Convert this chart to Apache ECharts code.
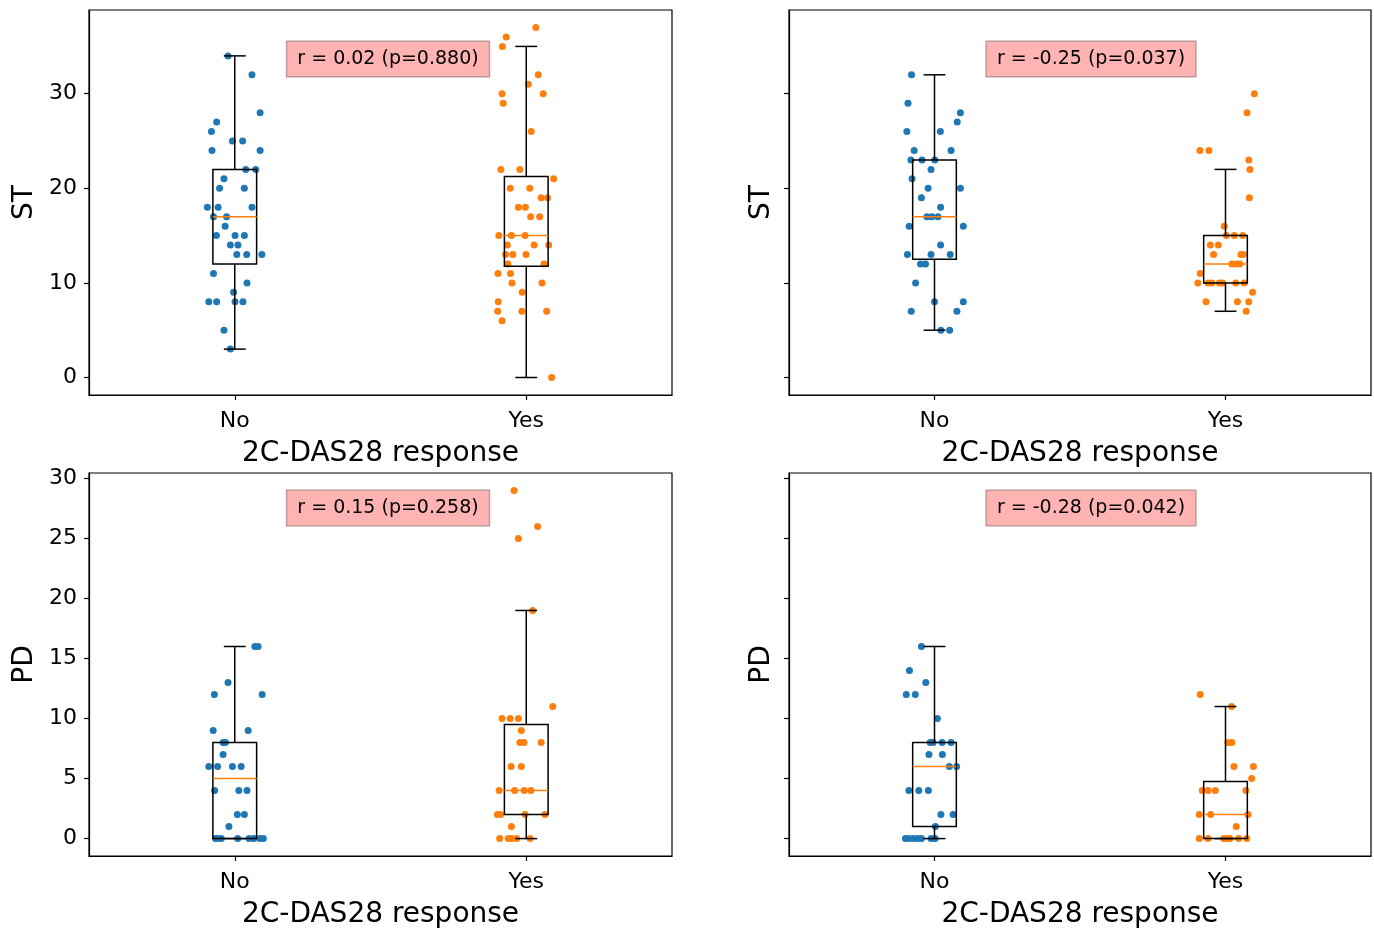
<!DOCTYPE html>
<html>
<head>
<meta charset="utf-8">
<script src="https://cdn.jsdelivr.net/npm/echarts@6/dist/echarts.min.js"></script>
<style>
  html, body { margin: 0; background: #fff; }
  #chart { width: 1374px; height: 930px; }
</style>
</head>
<body>
<div id="chart"></div>
<script>
// 分组 / 刻度
var groups = ['No', 'Yes'];
var stTicks = [0, 10, 20, 30];
var pdTicks = [0, 5, 10, 15, 20, 25, 30];

// 左上: ST
var stANo = [34,32,28,27,26,25,25,24,24,22,22,21,20,20,18,18,18,17,17,16,15,15,15,14,14,13,13,13,11,10,9,8,8,8,8,5,3];
var stANoJit = [-0.023,0.059,0.087,-0.062,-0.080,-0.008,0.027,-0.078,0.087,0.038,0.072,-0.037,-0.052,0.033,-0.094,-0.057,0.059,-0.073,-0.028,-0.033,-0.063,0.001,0.033,-0.015,0.011,0.007,0.041,0.093,-0.073,0.042,-0.004,-0.089,-0.062,0.001,0.028,-0.037,-0.015];
var stAYes = [37,36,35,32,31,30,30,29,26,22,22,21,20,20,19,19,18,18,17,17,15,15,15,14,14,14,13,13,13,12,12,11,11,10,10,9,8,7,7,7,6,0];
var stAYesJit = [0.033,-0.069,-0.082,0.041,0.007,-0.083,0.058,-0.079,0.017,-0.087,-0.022,0.094,-0.055,0.012,0.051,0.073,-0.027,-0.003,0.015,0.046,-0.094,-0.051,-0.004,-0.065,0.027,0.077,-0.071,-0.046,-0.001,-0.063,0.061,-0.097,-0.054,-0.049,0.054,-0.014,-0.096,-0.098,-0.015,0.070,-0.083,0.087];
// 箱线: [min, q1, median, q3, max]
var stABoxNo = [3, 12, 17, 22, 34];
var stABoxYes = [0, 11.75, 15, 21.25, 35];

// 右上: ST
var stBNo = [32,29,28,27,26,26,24,24,23,23,23,22,21,20,20,19,18,17,17,17,16,16,14,13,13,13,12,12,10,8,8,7,7,5,5];
var stBNoJit = [-0.079,-0.091,0.089,0.078,-0.095,0.020,-0.070,0.057,-0.081,-0.043,0.001,-0.012,-0.077,-0.022,0.089,-0.045,0.021,-0.026,-0.009,0.012,-0.087,0.099,0.021,-0.093,-0.012,0.054,-0.048,-0.031,-0.065,0.000,0.099,-0.080,0.077,0.022,0.052];
var stBYes = [30,28,24,24,23,22,19,16,15,15,15,14,14,13,13,13,12,12,12,11,10,10,10,10,10,10,10,9,8,8,8,7];
var stBYesJit = [0.099,0.074,-0.088,-0.057,0.080,0.084,0.082,-0.004,0.003,0.030,0.059,-0.052,-0.025,-0.041,0.053,0.061,0.022,0.038,0.049,-0.087,-0.095,-0.060,-0.047,-0.021,-0.010,0.035,0.064,0.093,-0.067,0.041,0.080,0.071];
var stBBoxNo = [5, 12.5, 17, 23, 32];
var stBBoxYes = [7, 10, 12, 15, 22];

// 左下: PD
var pdANo = [16,16,13,12,12,9,9,8,8,7,6,6,6,6,4,4,4,2,2,1,0,0,0,0,0,0,0,0];
var pdANoJit = [0.069,0.080,-0.023,-0.070,0.094,-0.074,0.046,-0.040,-0.032,-0.040,-0.089,-0.059,-0.008,0.022,-0.069,0.014,0.042,0.009,0.033,-0.020,-0.066,-0.056,-0.046,0.010,0.049,0.065,0.086,0.098];
var pdAYes = [29,26,25,19,11,10,10,10,9,8,8,8,6,6,4,4,4,4,2,2,2,2,1,0,0,0,0,0];
var pdAYesJit = [-0.042,0.039,-0.027,0.022,0.091,-0.083,-0.055,-0.027,-0.017,-0.022,-0.008,0.051,-0.052,-0.017,-0.093,-0.040,-0.007,0.016,-0.099,-0.088,-0.004,0.064,-0.051,-0.091,-0.062,-0.050,-0.033,0.013];
var pdABoxNo = [0, 0, 5, 8, 16];
var pdABoxYes = [0, 2, 4, 9.5, 19];

// 右下: PD
var pdBNo = [16,14,13,12,12,10,8,8,8,8,7,7,6,6,4,4,4,2,2,1,0,0,0,0,0,0,0];
var pdBNoJit = [-0.045,-0.086,-0.030,-0.097,-0.066,0.010,-0.015,-0.005,0.026,0.057,-0.019,0.027,0.051,0.076,-0.088,-0.054,-0.021,0.022,0.064,0.003,-0.100,-0.088,-0.073,-0.058,-0.045,-0.012,0.002];
var pdBYes = [12,11,8,8,6,6,5,4,4,4,4,2,2,2,1,0,0,0,0,0,0,0];
var pdBYesJit = [-0.087,0.021,0.008,0.022,0.029,0.096,0.090,-0.080,-0.060,-0.035,0.070,-0.090,-0.051,0.077,0.037,-0.090,-0.060,-0.006,0.004,0.015,0.045,0.073];
var pdBBoxNo = [0, 1, 6, 8, 16];
var pdBBoxYes = [0, 0, 2, 4.75, 11];

var notes = ['r = 0.02 (p=0.880)', 'r = -0.25 (p=0.037)', 'r = 0.15 (p=0.258)', 'r = -0.28 (p=0.042)'];

var blue = '#1f77b4', orange = '#ff7f0e';
var font = '"DejaVu Sans", sans-serif';

var chart = echarts.init(document.getElementById('chart'));

// 每个子图的位置
var panels = [
  { left: 89,  top: 10,  width: 583, name: 'ST', ticks: stTicks, min: -1.85, max: 38.85, labels: true,
    no: stANo, noJit: stANoJit, yes: stAYes, yesJit: stAYesJit, boxNo: stABoxNo, boxYes: stABoxYes, note: [388, 59] },
  { left: 789, top: 10,  width: 582, name: 'ST', ticks: stTicks, min: -1.85, max: 38.85, labels: false,
    no: stBNo, noJit: stBNoJit, yes: stBYes, yesJit: stBYesJit, boxNo: stBBoxNo, boxYes: stBBoxYes, note: [1091, 59] },
  { left: 89,  top: 473, width: 583, name: 'PD', ticks: pdTicks, min: -1.45, max: 30.45, labels: true,
    no: pdANo, noJit: pdANoJit, yes: pdAYes, yesJit: pdAYesJit, boxNo: pdABoxNo, boxYes: pdABoxYes, note: [388, 508] },
  { left: 789, top: 473, width: 582, name: 'PD', ticks: pdTicks, min: -1.45, max: 30.45, labels: false,
    no: pdBNo, noJit: pdBNoJit, yes: pdBYes, yesJit: pdBYesJit, boxNo: pdBBoxNo, boxYes: pdBBoxYes, note: [1091, 508] }
];

function jitterPoints(vals, jit, pos) {
  return vals.map(function (v, i) { return [pos + jit[i], v]; });
}

// 箱体 + 须
function renderBox(params, api) {
  var x = api.value(0), half = 0.075, cap = 0.0375;
  var lo = api.value(1), q1 = api.value(2), q3 = api.value(4), hi = api.value(5);
  var a = api.coord([x - half, q3]), b = api.coord([x + half, q1]);
  var c = api.coord([x, hi]), d = api.coord([x, lo]);
  var cl = api.coord([x - cap, 0])[0], cr = api.coord([x + cap, 0])[0];
  var st = { stroke: '#000', lineWidth: 1.5, fill: null };
  return {
    type: 'group',
    children: [
      { type: 'rect', shape: { x: a[0], y: a[1], width: b[0] - a[0], height: b[1] - a[1] }, style: st },
      { type: 'line', shape: { x1: c[0], y1: c[1], x2: c[0], y2: a[1] }, style: st },
      { type: 'line', shape: { x1: d[0], y1: b[1], x2: d[0], y2: d[1] }, style: st },
      { type: 'line', shape: { x1: cl, y1: c[1], x2: cr, y2: c[1] }, style: st },
      { type: 'line', shape: { x1: cl, y1: d[1], x2: cr, y2: d[1] }, style: st }
    ]
  };
}

function renderMedian(params, api) {
  var x = api.value(0), half = 0.075, med = api.value(3);
  var a = api.coord([x - half, med]), b = api.coord([x + half, med]);
  return { type: 'line', shape: { x1: a[0], y1: a[1], x2: b[0], y2: b[1] }, style: { stroke: orange, lineWidth: 1.5 } };
}

var option = { animation: false, backgroundColor: '#fff', grid: [], xAxis: [], yAxis: [], series: [], graphic: [] };

panels.forEach(function (p, i) {
  option.grid.push({ left: p.left, top: p.top, width: p.width, height: 385, show: true, borderColor: '#000', borderWidth: 1.2 });
  option.xAxis.push({
    gridIndex: i, type: 'value', min: 0.5, max: 2.5,
    name: '2C-DAS28 response', nameLocation: 'middle', nameGap: 45,
    nameTextStyle: { fontFamily: font, fontSize: 28, color: '#000' },
    axisLine: { show: true, onZero: false, lineStyle: { color: '#000', width: 1.2 } },
    axisTick: { show: true, length: 5, customValues: [1, 2], lineStyle: { color: '#000', width: 1.2 } },
    axisLabel: { show: true, margin: 15, customValues: [1, 2], fontFamily: font, fontSize: 22, color: '#000',
      formatter: function (v) { return groups[Math.round(v) - 1]; } },
    splitLine: { show: false }
  });
  option.yAxis.push({
    gridIndex: i, type: 'value', min: p.min, max: p.max,
    name: p.name, nameLocation: 'middle', nameGap: p.labels ? 50 : 13,
    nameTextStyle: { fontFamily: font, fontSize: 28, color: '#000' },
    axisLine: { show: true, onZero: false, lineStyle: { color: '#000', width: 1.2 } },
    axisTick: { show: true, length: 5, customValues: p.ticks, lineStyle: { color: '#000', width: 1.2 } },
    axisLabel: { show: p.labels, margin: 12, customValues: p.ticks, fontFamily: font, fontSize: 22, color: '#000' },
    splitLine: { show: false }
  });
  var boxData = [[1].concat(p.boxNo), [2].concat(p.boxYes)];
  option.series.push(
    { type: 'scatter', xAxisIndex: i, yAxisIndex: i, symbolSize: 7, z: 2, itemStyle: { color: blue, opacity: 1 },
      data: jitterPoints(p.no, p.noJit, 1) },
    { type: 'scatter', xAxisIndex: i, yAxisIndex: i, symbolSize: 7, z: 2, itemStyle: { color: orange, opacity: 1 },
      data: jitterPoints(p.yes, p.yesJit, 2) },
    { type: 'custom', xAxisIndex: i, yAxisIndex: i, z: 3, renderItem: renderBox, data: boxData },
    { type: 'custom', xAxisIndex: i, yAxisIndex: i, z: 4, renderItem: renderMedian, data: boxData }
  );
  option.graphic.push({
    type: 'text', x: p.note[0], y: p.note[1], z: 10,
    style: {
      text: notes[i], fontFamily: font, fontSize: 19, fill: '#000',
      align: 'center', verticalAlign: 'middle',
      backgroundColor: '#ffb3b3', borderColor: '#bf9999', borderWidth: 1.5,
      padding: [7, 10], lineHeight: 20
    }
  });
});

chart.setOption(option);
</script>
</body>
</html>
